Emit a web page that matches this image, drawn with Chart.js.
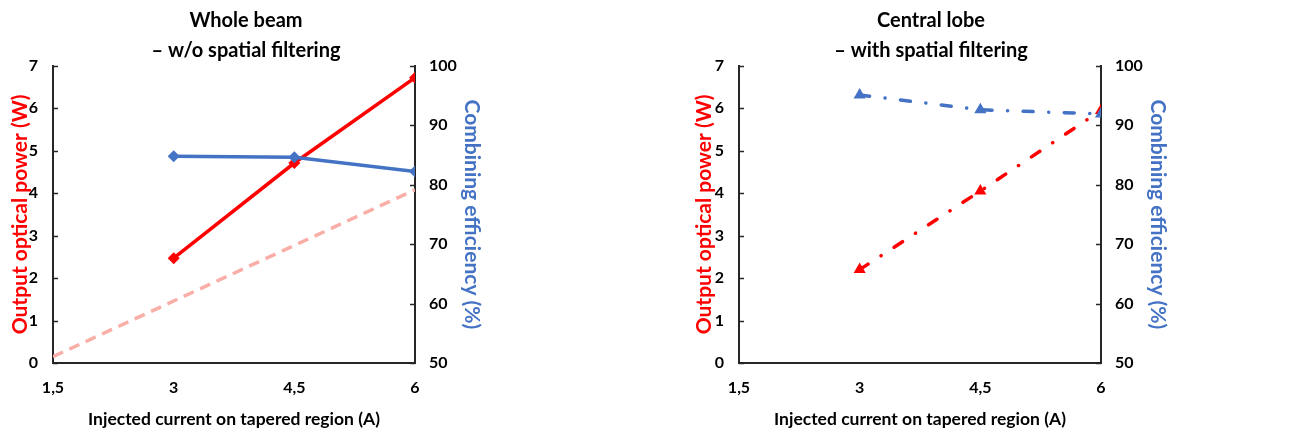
<!DOCTYPE html>
<html>
<head>
<meta charset="utf-8">
<script src="https://cdn.jsdelivr.net/npm/chart.js@4/dist/chart.umd.min.js"></script>
<style>
  html, body { margin: 0; padding: 0; background: #fff; }
  .panel { position: absolute; top: 0; height: 434px; }
  canvas { display: block; }
</style>
</head>
<body>
<div class="panel" style="left:0;width:650px"><canvas id="left" width="650" height="434"></canvas></div>
<div class="panel" style="left:650px;width:651px"><canvas id="right" width="651" height="434"></canvas></div>
<script>
// Injected current on the tapered region (A)
const xTicks = [1.5, 3, 4.5, 6];
const currentA = [3, 4.5, 6];

// Whole beam, without spatial filtering
const wholePower = [2.47, 4.71, 6.72];     // W
const wholeEff = [84.8, 84.6, 82.2];       // %
const trendCurrent = [1.5, 6];
const trendPower = [0.15, 4.08];           // W

// Central lobe, with spatial filtering
const lobePower = [2.2, 4.05, 5.95];       // W
const lobeEff = [95.1, 92.6, 91.9];        // %

const powerTicks = [0, 1, 2, 3, 4, 5, 6, 7];
const effTicks = [50, 60, 70, 80, 90, 100];

const RED = '#FF0000';
const BLUE = '#4472C4';
const PINK = '#F9AFA8';
const AXIS = '#262626';
const FONT = 'Lato, "Open Sans", sans-serif';

const pts = (xs, ys) => xs.map((x, i) => ({ x: x, y: ys[i] }));

// Short tick marks drawn on the inner side of both value axes
const innerTicks = {
  id: 'innerTicks',
  afterDraw(chart) {
    const ctx = chart.ctx;
    const area = chart.chartArea;
    ctx.save();
    ctx.strokeStyle = AXIS;
    ctx.lineWidth = 1.5;
    ['y', 'y2'].forEach(id => {
      const s = chart.scales[id];
      const isLeft = s.position === 'left';
      const x0 = isLeft ? area.left : area.right;
      const dx = isLeft ? 5 : -5;
      s.ticks.forEach(t => {
        const py = Math.round(s.getPixelForValue(t.value)) + 0.5;
        ctx.beginPath();
        ctx.moveTo(x0, py);
        ctx.lineTo(x0 + dx, py);
        ctx.stroke();
      });
    });
    ctx.restore();
  }
};

function build(canvasId, title, datasets, geo) {
  const fixedTicks = list => function (scale) {
    scale.ticks = list.map(v => ({ value: v }));
  };
  const tickFont = { family: FONT, size: 16, weight: 'bold' };
  return new Chart(document.getElementById(canvasId), {
    type: 'line',
    data: { datasets: datasets },
    plugins: [innerTicks],
    options: {
      responsive: false,
      animation: false,
      events: [],
      layout: { padding: { left: geo.padLeft, right: geo.padRight, top: 0, bottom: 0 } },
      plugins: {
        legend: { display: false },
        tooltip: { enabled: false },
        title: {
          display: true,
          text: title,
          color: '#000',
          font: { family: FONT, size: 20, weight: 'bold', lineHeight: 1.52 },
          padding: { top: 5, bottom: 0 }
        }
      },
      scales: {
        x: {
          type: 'linear',
          min: 1.5,
          max: 6,
          afterBuildTicks: fixedTicks(xTicks),
          afterFit: s => { s.height = 71; },
          grid: { display: false, drawTicks: false },
          border: { display: true, color: AXIS, width: 2 },
          ticks: {
            color: '#000',
            padding: 15,
            font: tickFont,
            callback: v => String(v).replace('.', ',')
          },
          title: {
            display: true,
            text: 'Injected current on tapered region (A)',
            color: '#000',
            font: { family: FONT, size: 17.5, weight: 'bold' },
            padding: { top: 0, bottom: 4 }
          }
        },
        y: {
          position: 'left',
          min: 0,
          max: 7,
          afterBuildTicks: fixedTicks(powerTicks),
          afterFit: s => { s.width = geo.leftAxis; },
          grid: { display: false, drawTicks: false },
          border: { display: true, color: AXIS, width: 2 },
          ticks: { color: '#000', padding: 15, font: tickFont },
          title: {
            display: true,
            text: 'Output optical power (W)',
            color: RED,
            font: { family: FONT, size: 21, weight: 'bold' },
            padding: 0
          }
        },
        y2: {
          position: 'right',
          min: 50,
          max: 100,
          afterBuildTicks: fixedTicks(effTicks),
          afterFit: s => { s.width = geo.rightAxis; },
          grid: { display: false, drawTicks: false },
          border: { display: true, color: AXIS, width: 2 },
          ticks: { color: '#000', padding: 14, font: tickFont },
          title: {
            display: true,
            text: 'Combining efficiency (%)',
            color: BLUE,
            font: { family: FONT, size: 21, weight: 'bold' },
            padding: 0
          }
        }
      }
    }
  });
}

Chart.defaults.font.family = FONT;

// Left panel: whole beam
build('left', ['Whole beam', '\u2013 w/o spatial filtering'], [
  {
    data: pts(currentA, wholeEff), yAxisID: 'y2', order: 0,
    borderColor: BLUE, backgroundColor: BLUE, borderWidth: 3.5,
    pointStyle: 'rectRot', pointRadius: 6, pointBorderWidth: 0, tension: 0
  },
  {
    data: pts(currentA, wholePower), yAxisID: 'y', order: 1,
    borderColor: RED, backgroundColor: RED, borderWidth: 3.5,
    pointStyle: 'rectRot', pointRadius: 6, pointBorderWidth: 0, tension: 0
  },
  {
    data: pts(trendCurrent, trendPower), yAxisID: 'y', order: 2,
    borderColor: PINK, borderWidth: 3.5, borderDash: [11, 7],
    pointRadius: 0, tension: 0
  }
], { padLeft: 8, padRight: 166, leftAxis: 45, rightAxis: 69 });

// Right panel: central lobe
build('right', ['Central lobe', '\u2013 with spatial filtering'], [
  {
    data: pts(currentA, lobeEff), yAxisID: 'y2', order: 0,
    borderColor: BLUE, backgroundColor: BLUE, borderWidth: 3.5,
    borderDash: [10, 15.5, 0.1, 15.5], borderCapStyle: 'round',
    pointStyle: 'triangle', pointRadius: 7, pointBorderWidth: 0, tension: 0
  },
  {
    data: pts(currentA, lobePower), yAxisID: 'y', order: 1,
    borderColor: RED, backgroundColor: RED, borderWidth: 3.5,
    borderDash: [10, 15.5, 0.1, 15.5], borderCapStyle: 'round',
    pointStyle: 'triangle', pointRadius: 7, pointBorderWidth: 0, tension: 0
  }
], { padLeft: 42, padRight: 131, leftAxis: 47, rightAxis: 69 });
</script>
</body>
</html>
